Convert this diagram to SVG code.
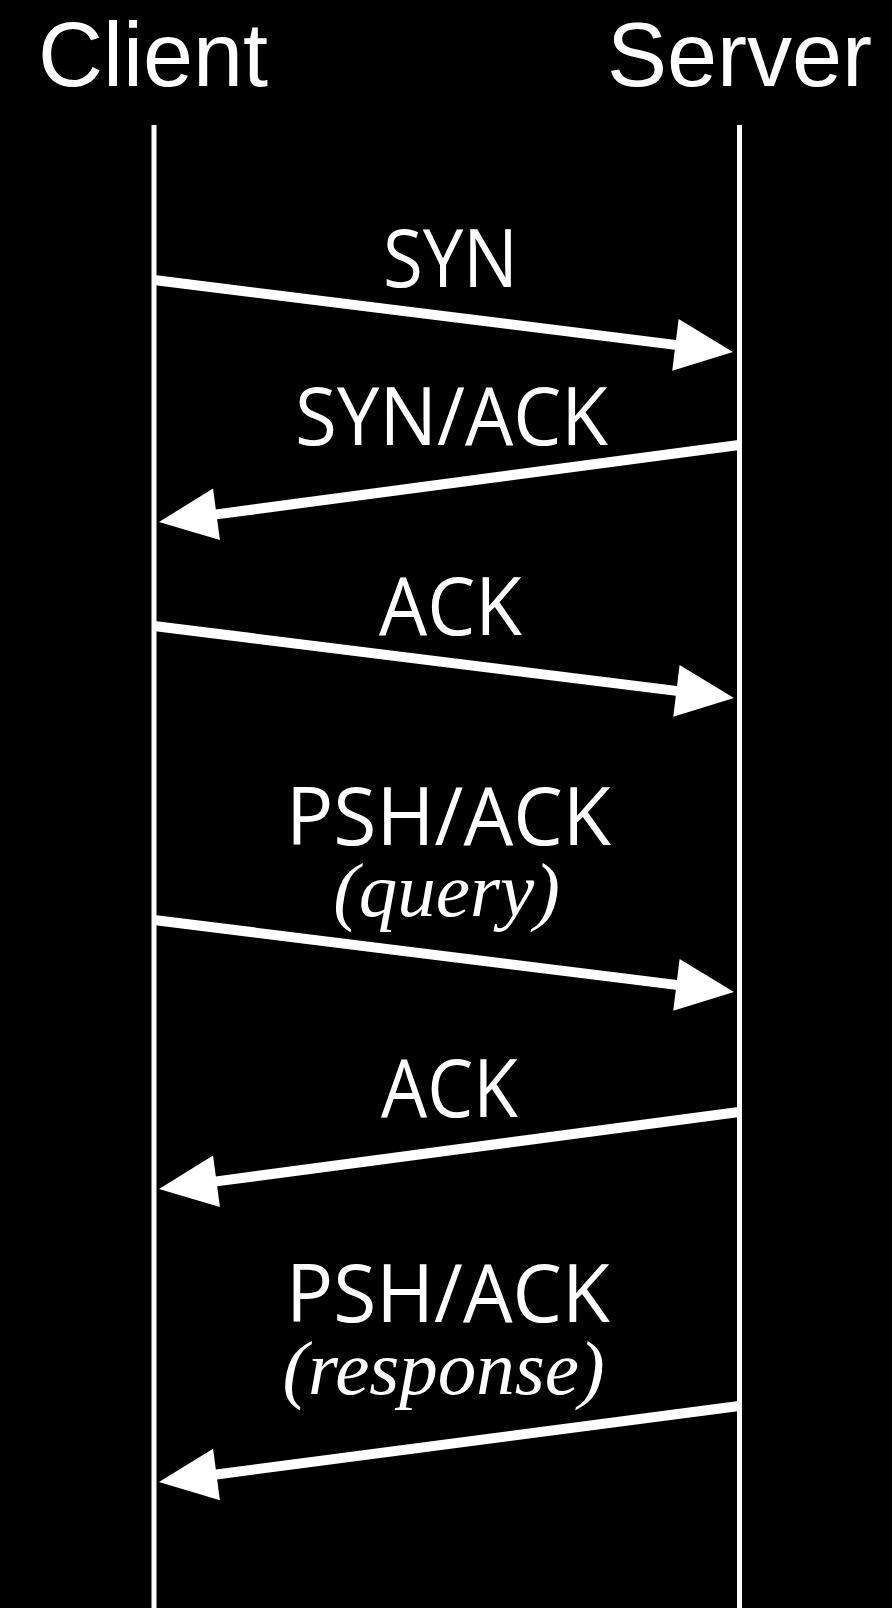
<svg xmlns="http://www.w3.org/2000/svg" width="892" height="1608" viewBox="0 0 892 1608">
  <style>
    .head { font-family: "Liberation Sans", Arial, sans-serif; font-size: 90px; fill: #fff; }
    .lbl { font-family: "Open Sans", "Noto Sans", sans-serif; font-size: 81px; fill: #fff; }
    .sub { font-family: "Liberation Serif", "Times New Roman", serif; font-style: italic; font-size: 77px; fill: #fff; text-anchor: middle; }
    .life { stroke: #fff; stroke-width: 5; fill: none; }
    .msg { stroke: #fff; stroke-width: 10; fill: none; marker-end: url(#arrow); }
  </style>
  <defs>
    <marker id="arrow" markerUnits="userSpaceOnUse" markerWidth="60" markerHeight="54" refX="2" refY="26" orient="auto" overflow="visible">
      <path d="M0,0 L58,26 L0,52 Z" fill="#fff"/>
    </marker>
  </defs>
  <rect x="0" y="0" width="892" height="1608" fill="#000"/>

  <g id="client">
    <text class="head" x="38" y="86">Client</text>
    <line class="life" x1="154" y1="125" x2="154" y2="1608"/>
  </g>
  <g id="server">
    <text class="head" x="607" y="86">Server</text>
    <line class="life" x1="739.5" y1="125" x2="739.5" y2="1608"/>
  </g>

  <g id="connectors">
    <line class="msg" x1="154" y1="280" x2="677.4" y2="345.1"/>
    <line class="msg" x1="739" y1="445" x2="214.5" y2="514.6"/>
    <line class="msg" x1="154" y1="626" x2="678.4" y2="691.1"/>
    <line class="msg" x1="154" y1="920" x2="678.4" y2="985.1"/>
    <line class="msg" x1="739" y1="1112" x2="214.5" y2="1181.6"/>
    <line class="msg" x1="739" y1="1406" x2="214.5" y2="1474.7"/>
  </g>

  <g id="labels">
    <text class="lbl" x="383" y="287" textLength="135" lengthAdjust="spacingAndGlyphs">SYN</text>
    <text class="lbl" x="295" y="445" textLength="313" lengthAdjust="spacingAndGlyphs">SYN/ACK</text>
    <text class="lbl" x="379" y="635" textLength="143" lengthAdjust="spacingAndGlyphs">ACK</text>
    <text class="lbl" x="286" y="845" textLength="325" lengthAdjust="spacingAndGlyphs">PSH/ACK</text>
    <text class="sub" x="446.5" y="916">(query)</text>
    <text class="lbl" x="381" y="1117" textLength="137" lengthAdjust="spacingAndGlyphs">ACK</text>
    <text class="lbl" x="286" y="1322" textLength="324" lengthAdjust="spacingAndGlyphs">PSH/ACK</text>
    <text class="sub" x="443.5" y="1394">(response)</text>
  </g>
</svg>
